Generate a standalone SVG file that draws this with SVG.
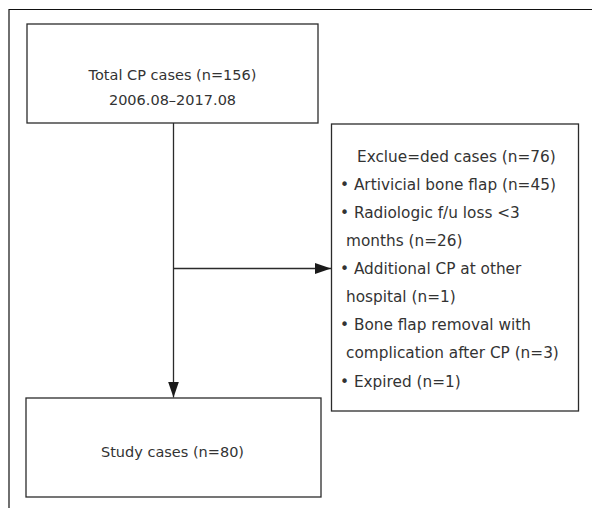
<svg xmlns="http://www.w3.org/2000/svg" width="592" height="508" viewBox="0 0 592 508">
<defs>
<style>
.box{fill:#fff;stroke:#2b2b2b;stroke-width:1.3}
.t{font-family:"DejaVu Sans",sans-serif;font-size:14.5px;fill:#333}
.tr{font-family:"DejaVu Sans",sans-serif;font-size:15.3px;fill:#333}
.b{fill:#333}
.ln{stroke:#2b2b2b;stroke-width:1.3;fill:none}
</style>
<marker id="ah" viewBox="0 0 16 11" refX="16" refY="5.5" markerWidth="16" markerHeight="11" markerUnits="userSpaceOnUse" orient="auto">
<path d="M0,0 L16,5.5 L0,11 Z" fill="#1a1a1a"/>
</marker>
</defs>
<rect width="592" height="508" fill="#fff"/>
<path d="M9,508 V9.5 H592" fill="none" stroke="#111" stroke-width="1.2"/>
<g id="connectors">
<line class="ln" x1="173.5" y1="123" x2="173.5" y2="397.5" marker-end="url(#ah)"/>
<line class="ln" x1="173.5" y1="268.5" x2="331" y2="268.5" marker-end="url(#ah)"/>
</g>
<g id="total">
<rect class="box" x="27" y="24" width="291" height="99"/>
<text class="t" x="172.5" y="80" text-anchor="middle">Total CP cases (n=156)</text>
<text class="t" x="172.5" y="105" text-anchor="middle">2006.08–2017.08</text>
</g>
<g id="excluded">
<rect class="box" x="331.5" y="124" width="247" height="287"/>
<text class="tr" x="357" y="162">Exclue=ded cases (n=76)</text>
<text class="tr" x="340" y="190">• Artivicial bone flap (n=45)</text>
<text class="tr" x="340" y="218">• Radiologic f/u loss &lt;3</text>
<text class="tr" x="346" y="246">months (n=26)</text>
<text class="tr" x="340" y="274">• Additional CP at other</text>
<text class="tr" x="346" y="302">hospital (n=1)</text>
<text class="tr" x="340" y="330">• Bone flap removal with</text>
<text class="tr" x="346" y="358">complication after CP (n=3)</text>
<text class="tr" x="340" y="387">• Expired (n=1)</text>
</g>
<g id="study">
<rect class="box" x="26" y="398" width="295" height="99"/>
<text class="t" x="172.5" y="457" text-anchor="middle">Study cases (n=80)</text>
</g>
</svg>
